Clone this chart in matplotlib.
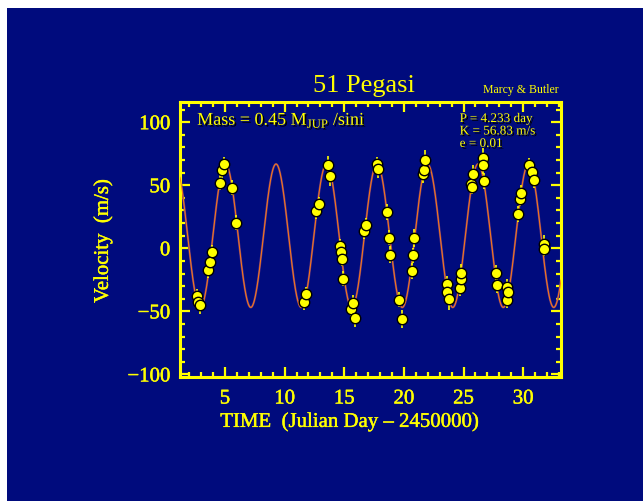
import numpy as np
import matplotlib.pyplot as plt
import matplotlib.patheffects as pe
from matplotlib.patches import Rectangle
from matplotlib.ticker import MultipleLocator

# radial velocity measurements of 51 Peg (days - 2450000, m/s)
time = [2.66, 2.76, 2.88, 3.61, 3.72, 3.89, 4.61, 4.78, 4.92, 5.62, 5.91,
        11.65, 11.82, 12.63, 12.88, 13.64, 13.83, 14.67, 14.73, 14.82, 14.90,
        15.60, 15.74, 15.87, 16.66, 16.86, 17.76, 17.84, 18.62, 18.73, 18.85,
        19.63, 19.82, 20.64, 20.75, 20.87, 21.62, 21.67, 21.73,
        23.64, 23.64, 23.75, 24.68, 24.76, 24.82, 25.59, 25.68, 25.76,
        26.61, 26.66, 26.71, 27.72, 27.81, 28.62, 28.68, 28.72,
        29.60, 29.71, 29.80, 30.50, 30.78, 30.87, 31.71, 31.76]
velocity = [-38.1, -42.6, -44.7, -17.5, -10.9, -3.2, 52.1, 61.9, 66.7, 48.2, 20.4,
            -42.6, -36.3, 29.6, 34.9, 65.9, 57.1, 1.6, -2.9, -8.2, -24.0,
            -48.4, -43.1, -55.0, 13.5, 18.3, 66.7, 62.7, 28.8, 8.5, -5.0,
            -40.7, -55.8, -18.0, -5.6, 8.2, 58.7, 61.9, 69.8,
            -28.0, -34.7, -40.5, -31.5, -24.6, -19.6, 50.8, 48.7, 58.7,
            71.7, 65.9, 53.4, -19.6, -29.4, -41.3, -30.7, -34.7,
            27.2, 39.4, 44.2, 65.9, 60.6, 54.0, 3.7, -0.2]
errors = [6, 6, 7, 6, 6, 6, 6, 7, 6, 6, 6,
          6, 6, 6, 6, 7, 8, 6, 6, 6, 6,
          6, 6, 7, 6, 6, 6, 7, 6, 6, 7,
          6, 7, 6, 6, 7, 7, 6, 8,
          6, 7, 8, 6, 6, 7, 6, 6, 7,
          8, 7, 6, 6, 6, 6, 6, 6,
          6, 6, 6, 6, 6, 6, 7, 6]

# orbital fit
period = 4.233
semi_amp = 56.83
gamma = 10.0
t_peak = 9.28

bg = '#000b7d'
yel = '#ffff00'
font = 'Liberation Serif'
plt.rcParams['mathtext.fontset'] = 'custom'
plt.rcParams['mathtext.rm'] = font
shadow = [pe.SimplePatchShadow(offset=(1.2, -1.2), shadow_rgbFace='k', alpha=1), pe.Normal()]
thick = [pe.withStroke(linewidth=0.3, foreground=yel)]

fig = plt.figure(figsize=(6.43, 5.01), dpi=100, facecolor='white')
fig.patches.append(Rectangle((7 / 643, 0), 1, 1 - 8 / 501, transform=fig.transFigure,
                             facecolor=bg, edgecolor='none', zorder=-10))
ax = fig.add_axes([180 / 643, 1 - 377 / 501, 381 / 643, 275 / 501])
ax.set_facecolor(bg)

xlim = (1.23, 33.17)
tt = np.linspace(xlim[0], xlim[1], 1500)
vv = gamma + semi_amp * np.cos(2 * np.pi * (tt - t_peak) / period)
ax.plot(tt, vv, color='#6a3a80', lw=1.5, zorder=2)
ax.plot(tt, vv, color='#ff7a10', lw=0.7, zorder=3)

ax.errorbar(time, velocity, yerr=errors, fmt='none', ecolor=yel, elinewidth=1.2, zorder=4)
ax.plot(time, velocity, 'o', color=yel, mec='k', mew=1.0, ms=7.5, zorder=5)

ax.set_xlim(*xlim)
ax.set_ylim(-102, 116)
ax.xaxis.set_major_locator(MultipleLocator(5))
ax.xaxis.set_minor_locator(MultipleLocator(1))
ax.yaxis.set_major_locator(MultipleLocator(50))
ax.yaxis.set_minor_locator(MultipleLocator(10))

for s in ax.spines.values():
    s.set_color(yel)
    s.set_linewidth(2.2)
ax.tick_params(which='both', direction='in', top=True, right=True, color=yel, width=1.6)
ax.tick_params(which='major', length=7)
ax.tick_params(which='minor', length=3.5)
ax.tick_params(axis='y', pad=7)
ax.tick_params(axis='x', pad=9)
for lab in ax.get_xticklabels() + ax.get_yticklabels():
    lab.set_fontfamily(font)
    lab.set_fontsize(15)
    lab.set_color(yel)
    lab.set_path_effects(thick)

fig.text(350 / 643, 1 - 422 / 501, 'TIME  (Julian Day \u2013 2450000)', fontsize=15,
         color=yel, family=font, ha='center', va='center', path_effects=thick)
fig.text(103 / 643, 1 - 241 / 501, 'Velocity  (m/s)', fontsize=15, color=yel,
         family=font, ha='center', va='center', rotation=90, path_effects=thick)

fig.text(364 / 643, 1 - 86 / 501, '51 Pegasi', fontsize=19, color=yel, family=font,
         ha='center', va='center')
fig.text(559 / 643, 1 - 90 / 501, 'Marcy & Butler', fontsize=8.5, color=yel, family=font,
         ha='right', va='center')

ax.text(0.045, 0.935, r'Mass = 0.45 M$_{\rm JUP}$ /sini', transform=ax.transAxes,
        fontsize=13, color=yel, family=font, ha='left', va='center', path_effects=shadow)
ax.text(0.734, 0.96, 'P = 4.233 day\nK = 56.83 m/s\ne = 0.01', transform=ax.transAxes,
        fontsize=9.5, color=yel, family=font, ha='left', va='top', linespacing=1.05,
        path_effects=shadow)

fig.savefig('out.png', dpi=100, facecolor=fig.get_facecolor())
